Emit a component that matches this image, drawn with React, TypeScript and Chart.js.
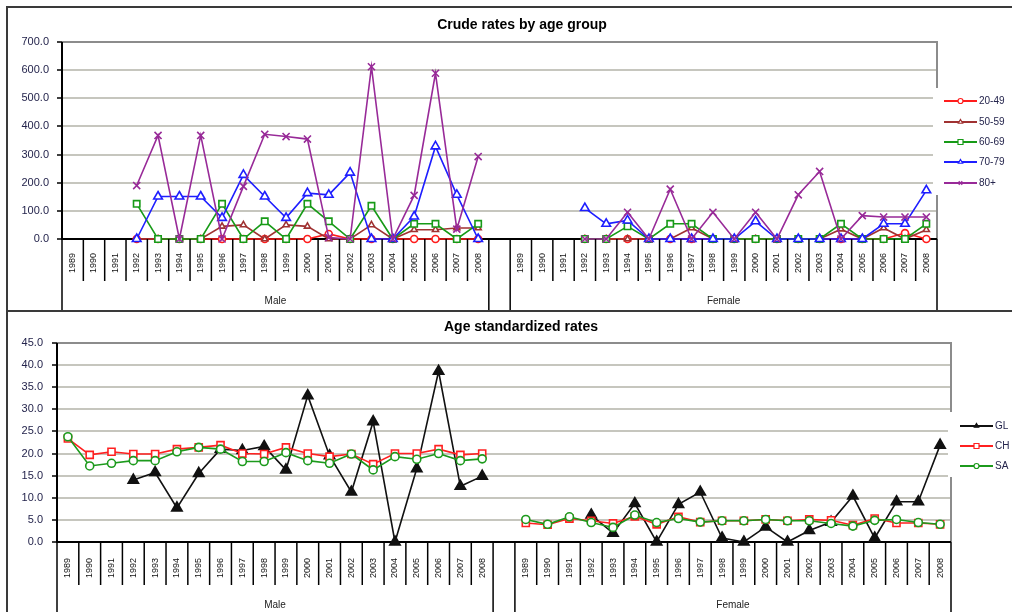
import React, { useEffect, useRef } from 'react';
import { Chart, registerables } from 'chart.js';

Chart.register(...registerables);

const FONT = '"Liberation Sans", Arial, sans-serif';
const TICK_COLOR = '#24244c';

const YEARS = ['1989', '1990', '1991', '1992', '1993', '1994', '1995', '1996', '1997', '1998',
  '1999', '2000', '2001', '2002', '2003', '2004', '2005', '2006', '2007', '2008'];
const GROUPS = ['Male', 'Female'];
const CATEGORIES = [...YEARS, '', ...YEARS];

const CRUDE_TITLE = 'Crude rates by age group';
const STD_TITLE = 'Age standardized rates';
const CRUDE_MAX = 700;
const CRUDE_STEP = 100;
const STD_MAX = 45;
const STD_STEP = 5;

const AGE_GROUPS = ['20-49', '50-59', '60-69', '70-79', '80+'];
const REGIONS = ['GL', 'CH', 'SA'];

const N = null;
// Crude rates, Male (1989..2008)
const MALE_20_49 = [N, N, N, 0, 0, 0, 0, 0, 0, 0, 0, 0, 18, 0, 0, 0, 0, 0, 0, 0];
const MALE_50_59 = [N, N, N, 0, 0, 0, 0, 45, 50, 0, 50, 45, 0, 0, 50, 0, 33, 33, 39, 39];
const MALE_60_69 = [N, N, N, 125, 0, 0, 0, 125, 0, 63, 0, 125, 63, 0, 118, 0, 54, 54, 0, 54];
const MALE_70_79 = [N, N, N, 0, 151, 151, 151, 75, 228, 151, 75, 163, 157, 236, 0, 0, 80, 329, 157, 0];
const MALE_80 = [N, N, N, 190, 368, 0, 368, 0, 187, 372, 364, 355, 5, 0, 612, 0, 155, 589, 35, 293];
// Crude rates, Female (1989..2008)
const FEMALE_20_49 = [N, N, N, 0, 0, 0, 0, 0, 0, 0, 0, 0, 0, 0, 0, 0, 0, 0, 21, 0];
const FEMALE_50_59 = [N, N, N, 0, 0, 0, 0, 0, 39, 0, 0, 0, 0, 0, 0, 35, 0, 39, 0, 33];
const FEMALE_60_69 = [N, N, N, 0, 0, 45, 0, 54, 54, 0, 0, 0, 0, 0, 0, 54, 0, 0, 0, 54];
const FEMALE_70_79 = [N, N, N, 110, 54, 66, 0, 0, 0, 0, 0, 63, 0, 0, 0, 0, 0, 54, 54, 173];
const FEMALE_80 = [N, N, N, 0, 0, 95, 0, 177, 0, 95, 0, 95, 0, 157, 240, 0, 83, 78, 78, 78];

// Age standardized rates, Male
const MALE_GL = [N, N, N, 14.0, 15.7, 7.7, 15.5, 21.0, 20.7, 21.6, 16.3, 33.1, 19.5, 11.3, 27.2, 0, 16.6, 38.6, 12.6, 14.9];
const MALE_CH = [23.4, 19.7, 20.4, 19.9, 19.9, 21.0, 21.4, 21.9, 20.0, 19.9, 21.4, 20.0, 19.3, 19.9, 17.6, 20.0, 20.0, 21.0, 19.7, 20.0];
const MALE_SA = [23.8, 17.2, 17.8, 18.4, 18.4, 20.4, 21.4, 21.0, 18.2, 18.2, 20.2, 18.4, 17.8, 19.9, 16.3, 19.3, 18.7, 20.0, 18.4, 18.8];
// Age standardized rates, Female
const FEMALE_GL = [N, N, N, 6.1, 2.0, 8.7, 0, 8.5, 11.3, 0.9, 0, 3.4, 0, 2.6, 4.5, 10.4, 0.9, 9.1, 9.1, 21.9];
const FEMALE_CH = [4.3, 3.9, 5.3, 4.8, 4.2, 5.8, 4.0, 5.7, 4.5, 4.8, 4.8, 5.1, 4.8, 5.1, 4.9, 3.8, 5.3, 4.3, 4.3, 4.0];
const FEMALE_SA = [5.1, 4.0, 5.7, 4.4, 3.3, 6.1, 4.4, 5.3, 4.5, 4.8, 4.8, 5.1, 4.8, 4.8, 4.2, 3.6, 4.9, 5.1, 4.4, 4.0];

const join = (m: any[], f: any[]) => [...m, null, ...f];

function drawMarker(ctx: any, style: string, x: number, y: number, r: number, stroke: string, fill: string | null, lw: number) {
  ctx.save();
  ctx.lineWidth = lw;
  ctx.beginPath();
  if (style === 'circle') ctx.arc(x, y, r, 0, Math.PI * 2);
  else if (style === 'rect') ctx.rect(x - r, y - r, 2 * r, 2 * r);
  else if (style === 'triangle') {
    ctx.moveTo(x, y - r); ctx.lineTo(x + r * 0.87, y + r * 0.5); ctx.lineTo(x - r * 0.87, y + r * 0.5); ctx.closePath();
  } else if (style === 'crossRot') {
    const d = r * 0.7;
    ctx.moveTo(x - d, y - d); ctx.lineTo(x + d, y + d); ctx.moveTo(x + d, y - d); ctx.lineTo(x - d, y + d);
  } else if (style === 'line') {
    ctx.moveTo(x - r, y); ctx.lineTo(x + r, y);
  }
  if (fill && style !== 'crossRot' && style !== 'line') { ctx.fillStyle = fill; ctx.fill(); }
  ctx.strokeStyle = stroke;
  ctx.stroke();
  ctx.restore();
}

type PanelOpts = {
  title: string; titleX: number; titleY: number; frameTop: number;
  legendX: number; legendYs: number[]; cover: number[];
  groupY: number; yearOffset: number; cellDepth: number;
};

function panelPlugin(o: PanelOpts) {
  return {
    id: 'panelDecor',
    beforeDatasetsDraw(chart: any) {
      const { ctx, chartArea: a } = chart;
      ctx.save();
      ctx.lineWidth = 2;
      ctx.strokeStyle = '#8c8c8c';
      ctx.beginPath();
      ctx.moveTo(a.left, a.top); ctx.lineTo(a.right, a.top); ctx.lineTo(a.right, a.bottom);
      ctx.stroke();
      ctx.strokeStyle = '#000';
      ctx.beginPath();
      ctx.moveTo(a.left, a.top); ctx.lineTo(a.left, a.bottom);
      ctx.moveTo(a.left - 1, a.bottom); ctx.lineTo(a.right, a.bottom);
      ctx.stroke();
      ctx.restore();
    },
    afterDraw(chart: any) {
      const { ctx, chartArea: a } = chart;
      const xs = chart.scales.x;
      const labels = chart.data.labels as string[];
      const n = labels.length;
      const w = xs.getPixelForValue(1) - xs.getPixelForValue(0);
      const x0 = xs.getPixelForValue(0) - w / 2;
      ctx.save();
      // category cells
      ctx.strokeStyle = '#000';
      ctx.lineWidth = 1.5;
      const edges = [0, YEARS.length, YEARS.length + 1, n];
      for (let i = 0; i <= n; i++) {
        const x = x0 + i * w;
        const long = edges.includes(i);
        ctx.beginPath();
        ctx.moveTo(x, a.bottom);
        ctx.lineTo(x, long ? chart.height : a.bottom + o.cellDepth);
        ctx.stroke();
      }
      // year labels
      ctx.fillStyle = '#111';
      ctx.font = `9px ${FONT}`;
      ctx.textAlign = 'center';
      ctx.textBaseline = 'middle';
      labels.forEach((lab, i) => {
        if (!lab) return;
        const x = xs.getPixelForValue(i);
        ctx.save();
        ctx.translate(x, a.bottom + o.yearOffset);
        ctx.rotate(-Math.PI / 2);
        ctx.fillText(lab, 0, 0);
        ctx.restore();
      });
      // group labels
      ctx.font = `10px ${FONT}`;
      ctx.fillStyle = '#222';
      GROUPS.forEach((g, gi) => {
        const start = gi * (YEARS.length + 1);
        const cx = x0 + (start + YEARS.length / 2) * w;
        ctx.fillText(g, cx, o.groupY);
      });
      // title
      ctx.font = `bold 14px ${FONT}`;
      ctx.fillStyle = '#000';
      ctx.fillText(o.title, o.titleX, o.titleY);
      // frame
      ctx.strokeStyle = '#3a3a3a';
      ctx.lineWidth = 2;
      ctx.beginPath();
      ctx.moveTo(7, chart.height); ctx.lineTo(7, o.frameTop); ctx.lineTo(chart.width, o.frameTop);
      ctx.stroke();
      // legend
      ctx.fillStyle = '#fff';
      ctx.fillRect(o.cover[0], o.cover[1], o.cover[2], o.cover[3]);
      const dsList = chart.data.datasets;
      dsList.forEach((ds: any, i: number) => {
        const y = o.legendYs[i];
        ctx.strokeStyle = ds.borderColor;
        ctx.lineWidth = 2;
        ctx.beginPath();
        ctx.moveTo(o.legendX, y); ctx.lineTo(o.legendX + 33, y);
        ctx.stroke();
        drawMarker(ctx, ds.pointStyle, o.legendX + 16.5, y, 2.5, ds.borderColor,
          ds.pointBackgroundColor, 1.2);
        ctx.fillStyle = TICK_COLOR;
        ctx.font = `10px ${FONT}`;
        ctx.textAlign = 'left';
        ctx.fillText(ds.label, o.legendX + 35, y + 0.5);
      });
      ctx.restore();
    },
  };
}

function series(label: string, data: any[], color: string, style: string, radius: number, fill: string | null, order: number, lw = 1.6) {
  return {
    label, data,
    borderColor: color,
    backgroundColor: color,
    borderWidth: lw,
    pointStyle: style,
    pointRadius: radius,
    pointHoverRadius: radius,
    pointBorderColor: color,
    pointBackgroundColor: fill === null ? color : fill,
    pointBorderWidth: 1.6,
    spanGaps: false,
    tension: 0,
    clip: false,
    order,
  };
}

function makeConfig(datasets: any[], max: number, step: number, yWidth: number, xHeight: number,
  pad: any, tickPad: number, opts: PanelOpts) {
  return {
    type: 'line',
    data: { labels: CATEGORIES, datasets },
    options: {
      responsive: false,
      animation: false,
      layout: { padding: pad },
      plugins: { legend: { display: false }, title: { display: false }, tooltip: { enabled: false } },
      scales: {
        x: {
          type: 'category',
          offset: true,
          grid: { display: false },
          border: { display: false },
          ticks: { display: false },
          afterFit: (s: any) => { s.height = xHeight; },
        },
        y: {
          min: 0, max,
          ticks: {
            stepSize: step,
            callback: (v: any) => Number(v).toFixed(1),
            color: TICK_COLOR,
            font: { family: FONT, size: 11 },
            padding: tickPad,
          },
          grid: { color: '#c6c6be', lineWidth: 2, tickLength: 5, tickColor: '#000', tickWidth: 1.5 },
          border: { display: false },
          afterFit: (s: any) => { s.width = yWidth; },
        },
      },
    },
    plugins: [panelPlugin(opts)],
  };
}

function crudeConfig() {
  const datasets = [
    series(AGE_GROUPS[0], join(MALE_20_49, FEMALE_20_49), '#ff1c1c', 'circle', 3.5, '#ffffff', 5),
    series(AGE_GROUPS[1], join(MALE_50_59, FEMALE_50_59), '#a03232', 'triangle', 3.5, '#ffffff', 4),
    series(AGE_GROUPS[2], join(MALE_60_69, FEMALE_60_69), '#179a17', 'rect', 4.5, '#ffffff', 3),
    series(AGE_GROUPS[3], join(MALE_70_79, FEMALE_70_79), '#1e1eff', 'triangle', 5, '#ffffff', 2),
    series(AGE_GROUPS[4], join(MALE_80, FEMALE_80), '#982a98', 'crossRot', 5, null, 1),
  ];
  return makeConfig(datasets, CRUDE_MAX, CRUDE_STEP, 62, 71,
    { top: 42, right: 75, bottom: 0, left: 0 }, 8,
    {
      title: CRUDE_TITLE, titleX: 522, titleY: 25, frameTop: 7,
      legendX: 944, legendYs: [101, 122, 142, 162, 183], cover: [933, 88, 79, 107],
      groupY: 301, yearOffset: 24, cellDepth: 42,
    });
}

function stdConfig() {
  const datasets = [
    series(REGIONS[0], join(MALE_GL, FEMALE_GL), '#111111', 'triangle', 6, null, 3),
    series(REGIONS[1], join(MALE_CH, FEMALE_CH), '#ff2020', 'rect', 5, '#ffffff', 2),
    series(REGIONS[2], join(MALE_SA, FEMALE_SA), '#1c9a1c', 'circle', 4, '#ffffff', 1),
  ];
  return makeConfig(datasets, STD_MAX, STD_STEP, 57, 70,
    { top: 33, right: 61, bottom: 0, left: 0 }, 9,
    {
      title: STD_TITLE, titleX: 521, titleY: 17, frameTop: 1,
      legendX: 960, legendYs: [116, 136, 156], cover: [948, 102, 64, 65],
      groupY: 295, yearOffset: 26, cellDepth: 43,
    });
}

function Panel({ make, top, height }: { make: () => any; top: number; height: number }) {
  const ref = useRef<HTMLCanvasElement>(null);
  useEffect(() => {
    const chart = new Chart(ref.current as HTMLCanvasElement, make());
    return () => chart.destroy();
  }, []);
  return (
    <canvas
      ref={ref}
      width={1012}
      height={height}
      style={{ position: 'absolute', left: 0, top, width: 1012, height, display: 'block' }}
    />
  );
}

export default function App() {
  return (
    <div style={{ position: 'absolute', left: 0, top: 0, width: 1012, height: 612, background: '#fff', overflow: 'hidden' }}>
      <Panel make={crudeConfig} top={0} height={310} />
      <Panel make={stdConfig} top={310} height={302} />
    </div>
  );
}
